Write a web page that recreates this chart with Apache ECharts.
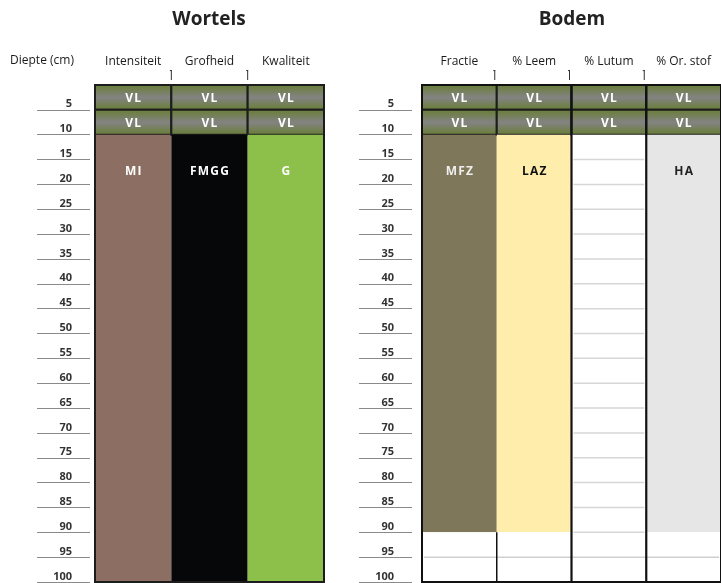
<!DOCTYPE html>
<html><head><meta charset="utf-8">
<script src="https://cdn.jsdelivr.net/npm/echarts@6/dist/echarts.min.js"></script>
<style>html,body{margin:0;padding:0;background:#fff}#c{width:721px;height:583px}</style>
</head><body><div id="c"></div>
<script>
// ---- data ----
const depthTicks = [5,10,15,20,25,30,35,40,45,50,55,60,65,70,75,80,85,90,95,100];
const wortelsColumns = ['Intensiteit','Grofheid','Kwaliteit'];
const wortelsLabels = ['MI','FMGG','G'];
const bodemColumns = ['Fractie','% Leem','% Lutum','% Or. stof'];
const bodemLabels = ['MFZ','LAZ','','HA'];
const vlLayers = [[0,5],[5,10]];
const vlLabel = 'VL';
const wortelsMainLayer = [10,100];
const bodemMainLayer = [10,90];
const bodemRestLayer = [90,100];
const lutumLineDepths = [15,20,25,30,35,40,45,50,55,60,65,70,75,80,85,90];
const restLineDepths = [95];

// ---- styles ----
const FONT = 'Open Sans';
const wortelsFill = ['#8c6f62','#060709','#8dc04b'];
const wortelsText = ['#ffffff','#ffffff','#ffffff'];
const bodemFill = ['#7f775a','#feedab','#ffffff','#e6e6e6'];
const bodemText = ['#eeeeee','#111111','#111111','#222222'];
const labelDepth = 17.5;
const vlGradient = {type:'linear',x:0,y:0,x2:0,y2:1,colorStops:[
  {offset:0,color:'#6b7f3c'},{offset:0.15,color:'#6f7f48'},{offset:0.5,color:'#838383'},{offset:0.85,color:'#6f7f48'},{offset:1,color:'#6b7f3c'}]};

function buildCells(cols, mainLayer, labels, restLayer){
  const cells = [];
  cols.forEach((c,i)=>{
    vlLayers.forEach(l=>cells.push({col:i,top:l[0],bot:l[1],kind:'vl',label:vlLabel}));
    cells.push({col:i,top:mainLayer[0],bot:mainLayer[1],kind:'main',label:labels[i]});
    if(restLayer) cells.push({col:i,top:restLayer[0],bot:restLayer[1],kind:'rest',label:''});
  });
  return cells;
}
const wortelsCells = buildCells(wortelsColumns, wortelsMainLayer, wortelsLabels, null);
const bodemCells = buildCells(bodemColumns, bodemMainLayer, bodemLabels, bodemRestLayer);

const HS = String.fromCharCode(8202);
function spaced(t){ return t.split('').join(HS); }

function cellRenderer(cells, fills, texts){
  return function(params, api){
    const cell = cells[params.dataIndex];
    const p0 = api.coord([api.value(0), api.value(1)]);
    const p1 = api.coord([api.value(0), api.value(2)]);
    const w = api.size([1,0])[0];
    const x = p0[0]-w/2;
    const children = [];
    if(cell.kind==='vl'){
      children.push({type:'rect',shape:{x:x,y:p0[1],width:w,height:p1[1]-p0[1]},
        style:{fill:vlGradient,stroke:'#1c1c1c',lineWidth:2}});
      children.push({type:'text',style:{text:spaced(cell.label),x:p0[0],y:(p0[1]+p1[1])/2+1,align:'center',verticalAlign:'middle',
        fill:'#ffffff',font:'bold 12px "'+FONT+'"'}});
    } else if(cell.kind==='main'){
      children.push({type:'rect',shape:{x:x,y:p0[1],width:w,height:p1[1]-p0[1]},style:{fill:fills[cell.col]}});
      if(cell.label){
        const py = api.coord([api.value(0), labelDepth])[1];
        children.push({type:'text',style:{text:spaced(cell.label),x:p0[0],y:py,align:'center',verticalAlign:'middle',
          fill:texts[cell.col],font:'bold 12px "'+FONT+'"'}});
      }
    } else {
      children.push({type:'rect',shape:{x:x,y:p0[1],width:w,height:p1[1]-p0[1]},style:{fill:'#ffffff'}});
    }
    return {type:'group',children:children};
  };
}

const bodemLines = [];
lutumLineDepths.forEach(d=>bodemLines.push({c0:2,c1:2,d:d,color:'#d6d6d6',w:1.5}));
restLineDepths.forEach(d=>bodemLines.push({c0:0,c1:3,d:d,color:'#cfcfcf',w:1.5}));

const bodemSeps = [
  {b:1, top:bodemRestLayer[0], bot:100, w:1.5},
  {b:2, top:0, bot:100, w:2.2},
  {b:3, top:0, bot:100, w:2.2}
];

function yAxisCommon(grid, offset){
  return {type:'value',gridIndex:grid,inverse:true,min:0,max:100,interval:5,position:'left',offset:offset,
    axisLine:{show:false},splitLine:{show:false},
    axisTick:{show:true,length:53,customValues:depthTicks,lineStyle:{color:'#8a8a8a',width:1}},
    axisLabel:{show:true,customValues:depthTicks,margin:18,verticalAlign:'bottom',padding:[0,0,0,0],
      color:'#333',fontSize:11,fontWeight:'bold',fontFamily:FONT}};
}
function xAxisCommon(grid, cols){
  return {type:'category',gridIndex:grid,data:cols,position:'top',boundaryGap:true,
    axisLine:{show:false},axisTick:{show:false},splitLine:{show:false},
    axisLabel:{show:true,margin:17,color:'#1a1a1a',fontSize:12,fontFamily:FONT,interval:0}};
}

function headerMark(shift){
  return function(params,api){
    const w = api.size([1,0])[0];
    const a = api.coord([api.value(0),-3]);
    const b = api.coord([api.value(0),-1]);
    const x = a[0]-w/2+shift;
    return {type:'group',children:[
      {type:'line',shape:{x1:x,y1:a[1],x2:x,y2:b[1]},style:{stroke:'#333',lineWidth:1}},
      {type:'line',shape:{x1:x-1.5,y1:a[1]+0.5,x2:x+0.5,y2:a[1]+0.5},style:{stroke:'#333',lineWidth:1}}]};
  };
}
function frame(ncols, color){
  return function(params,api){
    const w = api.size([1,0])[0];
    const a = api.coord([0,0]); const b = api.coord([ncols-1,100]);
    return {type:'rect',shape:{x:a[0]-w/2,y:a[1],width:b[0]-a[0]+w,height:b[1]-a[1]},style:{fill:null,stroke:color,lineWidth:2}};
  };
}

const chart = echarts.init(document.getElementById('c'),null,{renderer:'canvas'});
const option = {
  animation:false,
  backgroundColor:'#ffffff',
  grid:[{left:95,top:85,width:229,height:497},{left:422,top:85,width:303,height:497}],
  xAxis:[xAxisCommon(0,wortelsColumns),xAxisCommon(1,bodemColumns)],
  yAxis:[yAxisCommon(0,5),yAxisCommon(1,10)],
  graphic:[
    {type:'text',style:{text:'Wortels',x:209,y:20,align:'center',verticalAlign:'middle',fill:'#222',font:'bold 19px "'+FONT+'"'}},
    {type:'text',style:{text:'Bodem',x:572,y:20,align:'center',verticalAlign:'middle',fill:'#222',font:'bold 19px "'+FONT+'"'}},
    {type:'text',style:{text:'Diepte (cm)',x:42,y:61,align:'center',verticalAlign:'middle',fill:'#1a1a1a',font:'12px "'+FONT+'"'}}
  ],
  series:[
    {type:'custom',xAxisIndex:0,yAxisIndex:0,renderItem:cellRenderer(wortelsCells,wortelsFill,wortelsText),
      data:wortelsCells.map(c=>[c.col,c.top,c.bot]),z:2,silent:true},
    {type:'custom',xAxisIndex:1,yAxisIndex:1,renderItem:cellRenderer(bodemCells,bodemFill,bodemText),
      data:bodemCells.map(c=>[c.col,c.top,c.bot]),z:2,silent:true},
    {type:'custom',xAxisIndex:1,yAxisIndex:1,z:3,silent:true,
      renderItem:function(params,api){
        const l = bodemLines[params.dataIndex];
        const w = api.size([1,0])[0];
        const a = api.coord([api.value(0),api.value(2)]);
        const b = api.coord([api.value(1),api.value(2)]);
        return {type:'line',shape:{x1:a[0]-w/2+2,y1:a[1],x2:b[0]+w/2-2,y2:b[1]},style:{stroke:l.color,lineWidth:l.w}};
      },
      data:bodemLines.map(l=>[l.c0,l.c1,l.d])},
    {type:'custom',xAxisIndex:1,yAxisIndex:1,z:4,silent:true,
      renderItem:function(params,api){
        const s = bodemSeps[params.dataIndex];
        const w = api.size([1,0])[0];
        const a = api.coord([api.value(0),api.value(1)]);
        const b = api.coord([api.value(0),api.value(2)]);
        return {type:'line',shape:{x1:a[0]-w/2,y1:a[1],x2:b[0]-w/2,y2:b[1]},style:{stroke:'#111',lineWidth:s.w}};
      },
      data:bodemSeps.map(s=>[s.b,s.top,s.bot])},
    {type:'custom',xAxisIndex:0,yAxisIndex:0,z:4,silent:true,renderItem:headerMark(0),data:[[1],[2]]},
    {type:'custom',xAxisIndex:1,yAxisIndex:1,z:4,silent:true,renderItem:headerMark(-2),data:[[1],[2],[3]]},
    {type:'custom',xAxisIndex:0,yAxisIndex:0,z:5,silent:true,renderItem:frame(wortelsColumns.length,'#1c1c1c'),data:[[0]]},
    {type:'custom',xAxisIndex:1,yAxisIndex:1,z:5,silent:true,renderItem:frame(bodemColumns.length,'#111'),data:[[0]]}
  ]
};
chart.setOption(option);
</script></body></html>
